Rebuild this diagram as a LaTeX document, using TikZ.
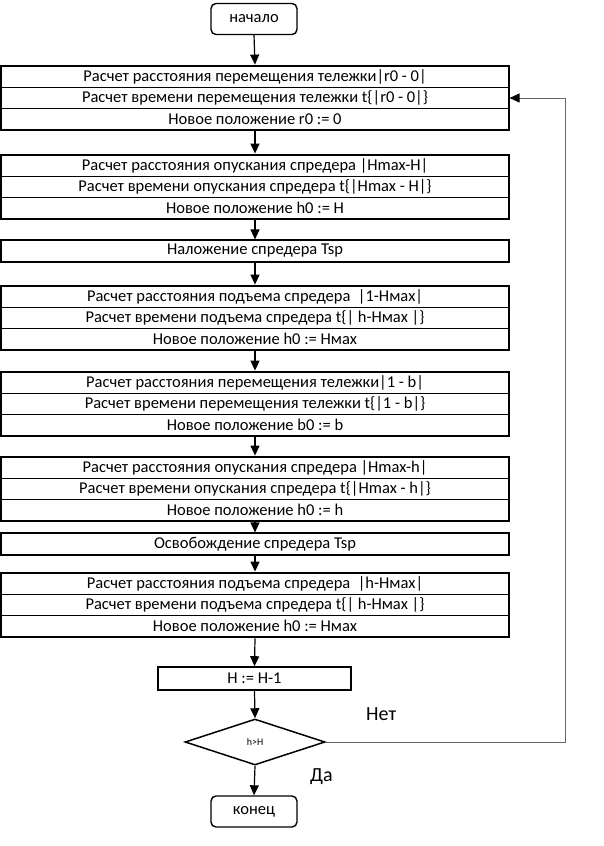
\documentclass[tikz,border=0pt]{standalone}
\usepackage{fontspec}
\setmainfont{Carlito}
\usetikzlibrary{arrows.meta,shapes.geometric,fit}
\newcommand\fmain{\fontsize{16.5}{18}\selectfont}
\newcommand\flab{\fontsize{20}{22}\selectfont}
\newcommand\fsmall{\fontsize{10}{12}\selectfont}
\tikzset{
  rowbox/.style={draw, line width=1.1pt, minimum width=508pt, minimum height=21.3pt, inner sep=0pt, font=\fmain},
  outerbox/.style={draw, line width=1.8pt, inner sep=0pt},
  term/.style={draw, line width=1.4pt, rounded corners=5pt, minimum width=86pt, minimum height=31pt, inner sep=0pt, font=\fmain},
  conn/.style={line width=1.2pt, -{Triangle[length=10pt,width=9pt]}},
  loopline/.style={draw=gray!80!black, line width=0.9pt, -{Triangle[length=10pt,width=9pt,color=black]}}
}
\begin{document}
\begin{tikzpicture}[x=1pt,y=-1pt]
\useasboundingbox (0,0) rectangle (603,846);
\node[term] (start) at (254,19) {начало};
% block 1
\node[rowbox] (r11) at (255,76.7) {Расчет расстояния перемещения тележки|r0 - 0|};
\node[rowbox] (r12) at (255,98) {Расчет времени перемещения тележки t\{|r0 - 0|\}};
\node[rowbox] (r13) at (255,119.3) {Новое положение r0 := 0};
\node[outerbox, fit=(r11)(r13)] (b1) {};
% block 2
\node[rowbox] (r21) at (255,165.7) {Расчет расстояния опускания спредера |Hmax-H|};
\node[rowbox] (r22) at (255,187) {Расчет времени опускания спредера t\{|Hmax - H|\}};
\node[rowbox] (r23) at (255,208.3) {Новое положение h0 := H};
\node[outerbox, fit=(r21)(r23)] (b2) {};
% Tsp
\node[rowbox, line width=1.8pt] (tsp) at (255,251) {Наложение спредера Tsp};
% block 3
\node[rowbox] (r31) at (255,296.7) {Расчет расстояния подъема спредера ~|1-Hмах|};
\node[rowbox] (r32) at (255,318) {Расчет времени подъема спредера t\{| h-Hмах |\}};
\node[rowbox] (r33) at (255,339.3) {Новое положение h0 := Hмах};
\node[outerbox, fit=(r31)(r33)] (b3) {};
% block 4
\node[rowbox] (r41) at (255,382.7) {Расчет расстояния перемещения тележки|1 - b|};
\node[rowbox] (r42) at (255,404) {Расчет времени перемещения тележки t\{|1 - b|\}};
\node[rowbox] (r43) at (255,425.3) {Новое положение b0 := b};
\node[outerbox, fit=(r41)(r43)] (b4) {};
% block 5
\node[rowbox] (r51) at (255,467.7) {Расчет расстояния опускания спредера |Hmax-h|};
\node[rowbox] (r52) at (255,489) {Расчет времени опускания спредера t\{|Hmax - h|\}};
\node[rowbox] (r53) at (255,510.3) {Новое положение h0 := h};
\node[outerbox, fit=(r51)(r53)] (b5) {};
% release
\node[rowbox, line width=1.8pt] (osv) at (255,544) {Освобождение спредера Tsp};
% block 6
\node[rowbox] (r61) at (255,583.7) {Расчет расстояния подъема спредера ~|h-Hмах|};
\node[rowbox] (r62) at (255,605) {Расчет времени подъема спредера t\{| h-Hмах |\}};
\node[rowbox] (r63) at (255,626.3) {Новое положение h0 := Hмах};
\node[outerbox, fit=(r61)(r63)] (b6) {};
% H := H-1
\node[draw, line width=1.6pt, minimum width=193pt, minimum height=23pt, inner sep=0pt, font=\fmain] (hdec) at (254.5,678.5) {H := H-1};
% decision
\node[draw, line width=1.5pt, shape=diamond, minimum width=140pt, minimum height=46pt, inner sep=0pt, font=\fsmall] (dec) at (255,742) {h>H};
% end
\node[term] (end) at (254,811.5) {конец};
% labels
\node[font=\flab, anchor=west, inner sep=0pt] (no) at (366,714) {Нет};
\node[font=\flab, anchor=west, inner sep=0pt] (yes) at (310,777) {Да};
% connectors
\draw[conn] (start.south) -- (b1.north);
\draw[conn] (b1.south) -- (b2.north);
\draw[conn] (b2.south) -- (tsp.north);
\draw[conn] (tsp.south) -- (b3.north);
\draw[conn] (b3.south) -- (b4.north);
\draw[conn] (b4.south) -- (b5.north);
\draw[conn] (b5.south) -- (osv.north);
\draw[conn] (osv.south) -- (b6.north);
\draw[conn] (b6.south) -- (hdec.north);
\draw[conn] (hdec.south) -- (dec.north);
\draw[conn] (dec.south) -- (end.north);
\coordinate (lp) at (565,742);
\draw[loopline] (dec.east) -- (lp) |- (r12.east);
\end{tikzpicture}
\end{document}
